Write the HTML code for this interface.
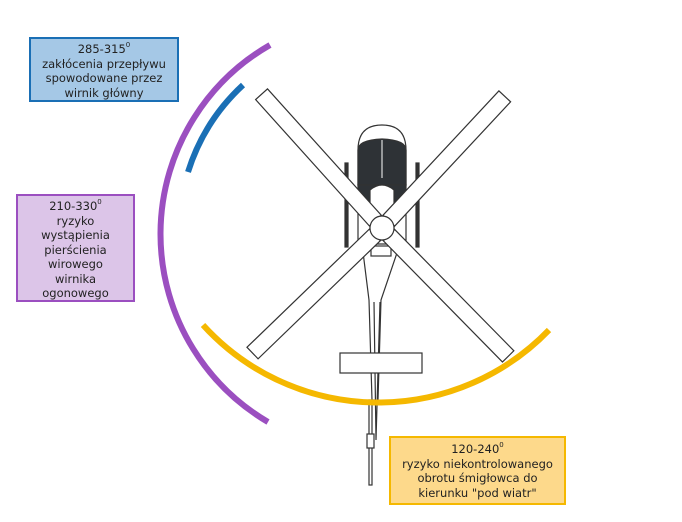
<!DOCTYPE html>
<html><head><meta charset="utf-8"><style>
body{margin:0;width:682px;height:522px;background:#fff;overflow:hidden;position:relative;font-family:"DejaVu Sans","Liberation Sans",sans-serif;}
.b{position:absolute;box-sizing:border-box;text-align:center;font-size:11.5px;line-height:14.5px;color:#222;border:2px solid;}
sup{font-size:7px;line-height:0;vertical-align:6px;}
svg{position:absolute;left:0;top:0;}
</style></head><body>
<svg width="682" height="522" viewBox="0 0 682 522">
<g fill="#fff" stroke="#333" stroke-width="1.2">
 <!-- skids -->
 <rect x="345" y="163" width="3" height="84" fill="#333"/>
 <rect x="416" y="163" width="3" height="84" fill="#333"/>
 <!-- tail boom -->
 <path d="M362,244 L369,300 L372,400 L378,400 L381,300 L400,244 Z"/>
 <rect x="371" y="246" width="20" height="10"/>
 <path d="M374,302 L376,440 L380,302"/>
 <!-- stabilizer -->
 <rect x="340" y="353" width="82" height="20"/>
 <!-- tail rotor -->
 <rect x="369" y="400" width="3" height="85"/>
 <rect x="367" y="434" width="7" height="14"/>
 <!-- body -->
 <path d="M358,150 Q358,125 382,125 Q406,125 406,150 L406,240 L358,240 Z"/>
 <path d="M358,185 L358,150 Q358,140 382,139 Q406,140 406,150 L406,185 Z" fill="#2e3236"/>
 <path d="M358,185 L406,185 L404,205 L396,212 L368,212 L360,205 Z" fill="#2e3236"/>
 <line x1="382" y1="140" x2="382" y2="178" stroke="#fff" stroke-width="1"/>
 <path d="M370,232 L370,190 Q382,180 394,190 L394,232 Z"/>
 <!-- blades -->
 <g transform="translate(382,228)">
  <rect x="-8" y="-180" width="16" height="170" transform="rotate(-42)"/>
  <rect x="-8" y="-180" width="16" height="170" transform="rotate(43)"/>
  <rect x="-8" y="10" width="16" height="170" transform="rotate(46)"/>
  <rect x="-8" y="10" width="16" height="170" transform="rotate(-44.5)"/>
  <circle cx="0" cy="0" r="12"/>
 </g>
</g>
<g fill="none" stroke-linecap="butt">
 <path d="M270,45 A218,218 0 0 0 268,422" stroke="#9b4fc0" stroke-width="6"/>
 <path d="M243,85 A200,200 0 0 0 188,172" stroke="#1a6fb5" stroke-width="6"/>
 <path d="M203,325 A237,237 0 0 0 549,330" stroke="#f5b800" stroke-width="6"/>
</g>
</svg>
<div class="b" style="left:29px;top:37px;width:150px;height:65px;background:#a5c8e6;border-color:#1a6fb5;padding-top:3px;">285-315<sup>0</sup><br>zakłócenia przepływu<br>spowodowane przez<br>wirnik główny</div>
<div class="b" style="left:16px;top:194px;width:119px;height:108px;background:#dcc5e8;border-color:#9b4fc0;padding-top:3px;">210-330<sup>0</sup><br>ryzyko<br>wystąpienia<br>pierścienia<br>wirowego<br>wirnika<br>ogonowego</div>
<div class="b" style="left:389px;top:436px;width:177px;height:69px;background:#fdd98b;border-color:#f5b800;padding-top:4px;">120-240<sup>0</sup><br>ryzyko niekontrolowanego<br>obrotu śmigłowca do<br>kierunku "pod wiatr"</div>
</body></html>
